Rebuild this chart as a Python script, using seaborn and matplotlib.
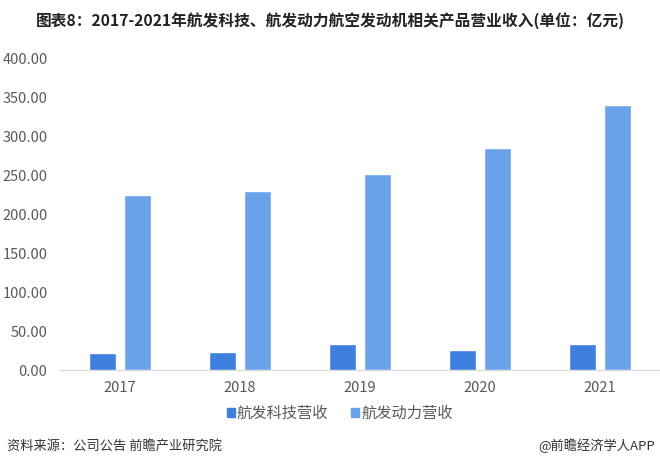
import pandas as pd
import matplotlib.pyplot as plt
import seaborn as sns

# données
years = ["2017", "2018", "2019", "2020", "2021"]
keji = [21.5, 22.7, 33.0, 26.0, 33.7]
dongli = [224.5, 229.5, 251.0, 284.5, 339.5]
series_names = ["航发科技营收", "航发动力营收"]
colors = ["#3F80DE", "#6BA2EA"]

df = pd.DataFrame({"year": years * 2,
                   "value": keji + dongli,
                   "serie": [series_names[0]] * 5 + [series_names[1]] * 5})

sns.set_style("white")
plt.rcParams['font.family'] = ['Noto Sans CJK SC', 'DejaVu Sans']

fig = plt.figure(figsize=(6.6, 4.68), dpi=100)
ax = fig.add_axes([0.091, 0.209, 0.909, 0.667])

sns.barplot(data=df, x="year", y="value", hue="serie", palette=colors,
            saturation=1, width=0.58, gap=0.22, ax=ax, legend=False)

ax.set_ylim(0, 400)
ax.set_yticks(range(0, 401, 50))
ax.set_yticklabels([f"{v:.2f}" for v in range(0, 401, 50)])
ax.set_xlim(-0.5, 4.5)
ax.set_xlabel("")
ax.set_ylabel("")
ax.tick_params(axis="both", length=0, labelsize=10.5, labelcolor="#595959")
ax.tick_params(axis="x", pad=8)
ax.tick_params(axis="y", pad=9)
for s in ["top", "right", "left"]:
    ax.spines[s].set_visible(False)
ax.spines["bottom"].set_color("#d9d9d9")

# légende
handles = [plt.Rectangle((0, 0), 1, 1, color=c) for c in colors]
fig.legend(handles, series_names, loc="center", bbox_to_anchor=(0.515, 0.117),
           ncol=2, frameon=False, fontsize=11, handlelength=0.5, handleheight=0.5,
           handletextpad=0.15, columnspacing=1.5, labelcolor="#595959")

fig.text(0.5, 0.957, "图表8：2017-2021年航发科技、航发动力航空发动机相关产品营业收入(单位：亿元)",
         ha="center", va="center", fontsize=11.3, fontweight="bold", color="#222222")
fig.text(0.01, 0.047, "资料来源：公司公告 前瞻产业研究院", ha="left", va="center",
         fontsize=9.5, color="#333333")
fig.text(0.993, 0.047, "@前瞻经济学人APP", ha="right", va="center",
         fontsize=9.5, color="#333333")

fig.savefig("out.png", dpi=100)
